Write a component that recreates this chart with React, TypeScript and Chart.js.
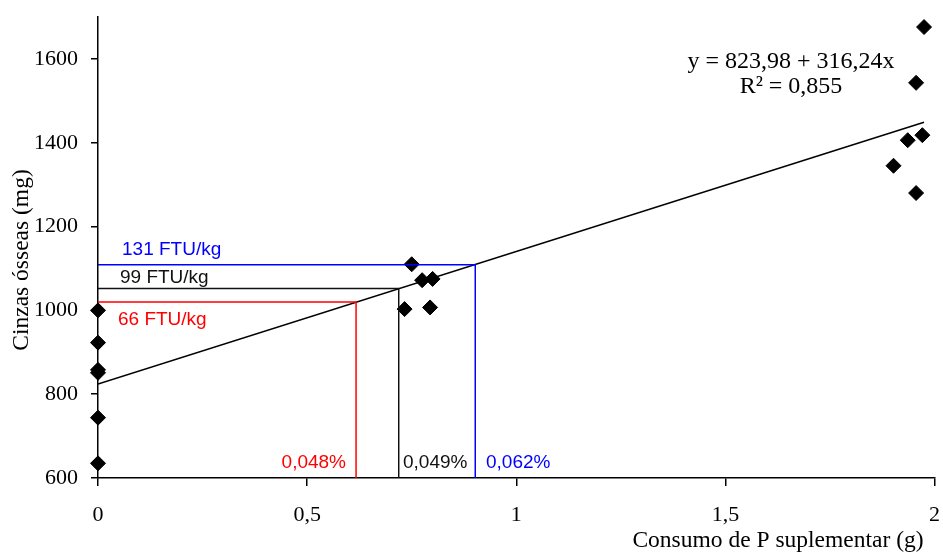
import { useEffect, useRef } from "react";
import { Chart, registerables } from "chart.js";

Chart.register(...registerables);

const xTicks = [0, 0.5, 1, 1.5, 2];
const xTickLabels = ["0", "0,5", "1", "1,5", "2"];
const yTicks = [600, 800, 1000, 1200, 1400, 1600];

const pointsX = [0, 0, 0, 0, 0, 0, 0.733, 0.75, 0.775, 0.794, 0.8, 1.902, 1.936, 1.956, 1.956, 1.971, 1.975];
const pointsY = [1000, 923, 858, 851, 744, 635, 1003, 1110, 1072, 1007, 1075, 1345, 1406, 1280, 1543, 1418, 1676];

const trendX = [0, 1.975];
const trendY = [824, 1449];

const blueX = [0, 0.902, 0.902];
const blueY = [1109, 1109, 600];
const blackX = [0, 0.719, 0.719];
const blackY = [1052, 1052, 600];
const redX = [0, 0.617, 0.617];
const redY = [1020, 1020, 600];

const doseLabels = ["131 FTU/kg", "99 FTU/kg", "66 FTU/kg"];
const pctLabels = ["0,062%", "0,049%", "0,048%"];
const equation = "y = 823,98 + 316,24x";
const r2 = "R² = 0,855";
const xTitle = "Consumo de P suplementar (g)";
const yTitle = "Cinzas ósseas (mg)";

const toXY = (xs: number[], ys: number[]) => xs.map((x, i) => ({ x, y: ys[i] }));

const textPlugin = {
  id: "texts",
  afterDraw(chart: any) {
    const ctx = chart.ctx;
    ctx.save();
    ctx.textBaseline = "middle";
    ctx.font = '19px "Liberation Sans"';
    ctx.fillStyle = "#0000FF";
    ctx.textAlign = "left";
    ctx.fillText(doseLabels[0], 122, 250);
    ctx.fillText(pctLabels[0], 486, 463);
    ctx.fillStyle = "#111";
    ctx.fillText(doseLabels[1], 120, 278);
    ctx.fillText(pctLabels[1], 403, 463);
    ctx.fillStyle = "#FF0000";
    ctx.fillText(doseLabels[2], 118, 320);
    ctx.textAlign = "right";
    ctx.fillText(pctLabels[2], 346, 463);

    ctx.fillStyle = "#000";
    ctx.font = '24px "Liberation Serif"';
    ctx.textAlign = "center";
    ctx.fillText(equation, 791, 62);
    ctx.fillText(r2, 791, 87);
    ctx.font = '23.5px "Liberation Serif"';
    ctx.fillText(xTitle, 778, 541);
    ctx.translate(22, 260);
    ctx.rotate(-Math.PI / 2);
    ctx.fillText(yTitle, 0, 0);
    ctx.restore();
  },
};

export default function App() {
  const ref = useRef<HTMLCanvasElement>(null);
  useEffect(() => {
    document.body.style.margin = "0";
    const lineDs = (xs: number[], ys: number[], color: string) => ({
      type: "line" as const,
      data: toXY(xs, ys),
      borderColor: color,
      borderWidth: 1.5,
      pointRadius: 0,
      fill: false,
      tension: 0,
    });
    const chart = new Chart(ref.current as HTMLCanvasElement, {
      type: "scatter",
      data: {
        datasets: [
          lineDs(blueX, blueY, "#0000FF"),
          lineDs(blackX, blackY, "#111111"),
          lineDs(redX, redY, "#FF0000"),
          lineDs(trendX, trendY, "#000000"),
          {
            type: "scatter",
            data: toXY(pointsX, pointsY),
            pointStyle: "rectRot",
            pointRadius: 7.5,
            backgroundColor: "#000",
            borderColor: "#000",
            borderWidth: 1,
            clip: false,
          } as any,
        ],
      },
      options: {
        animation: false,
        responsive: true,
        maintainAspectRatio: false,
        layout: { padding: { top: 17, right: 7, left: 0, bottom: 0 } },
        plugins: { legend: { display: false }, tooltip: { enabled: false } },
        scales: {
          x: {
            type: "linear",
            min: 0,
            max: 2,
            afterBuildTicks: (s: any) => {
              s.ticks = xTicks.map((v) => ({ value: v }));
            },
            afterFit: (s: any) => {
              s.height = 74;
              s.paddingLeft = 0;
              s.paddingRight = 0;
            },
            ticks: {
              callback: (v: any) => xTickLabels[xTicks.indexOf(Number(v))] ?? "",
              color: "#000",
              font: { family: "Liberation Serif", size: 22 },
              padding: 16,
              maxRotation: 0,
            },
            grid: { drawOnChartArea: false, drawTicks: true, tickLength: 8, color: "#000", lineWidth: 1.5 },
            border: { color: "#000", width: 1.5 },
          },
          y: {
            type: "linear",
            min: 600,
            max: 1700,
            afterBuildTicks: (s: any) => {
              s.ticks = yTicks.map((v) => ({ value: v }));
            },
            afterFit: (s: any) => {
              s.width = 98;
              s.paddingTop = 0;
              s.paddingBottom = 0;
            },
            ticks: {
              callback: (v: any) => String(v),
              color: "#000",
              font: { family: "Liberation Serif", size: 22 },
              padding: 13,
            },
            grid: { drawOnChartArea: false, drawTicks: true, tickLength: 7, color: "#000", lineWidth: 1.5 },
            border: { color: "#000", width: 1.5 },
          },
        },
      },
      plugins: [textPlugin],
    });
    return () => chart.destroy();
  }, []);
  return (
    <div style={{ width: 943, height: 552, position: "relative" }}>
      <canvas ref={ref} />
    </div>
  );
}
